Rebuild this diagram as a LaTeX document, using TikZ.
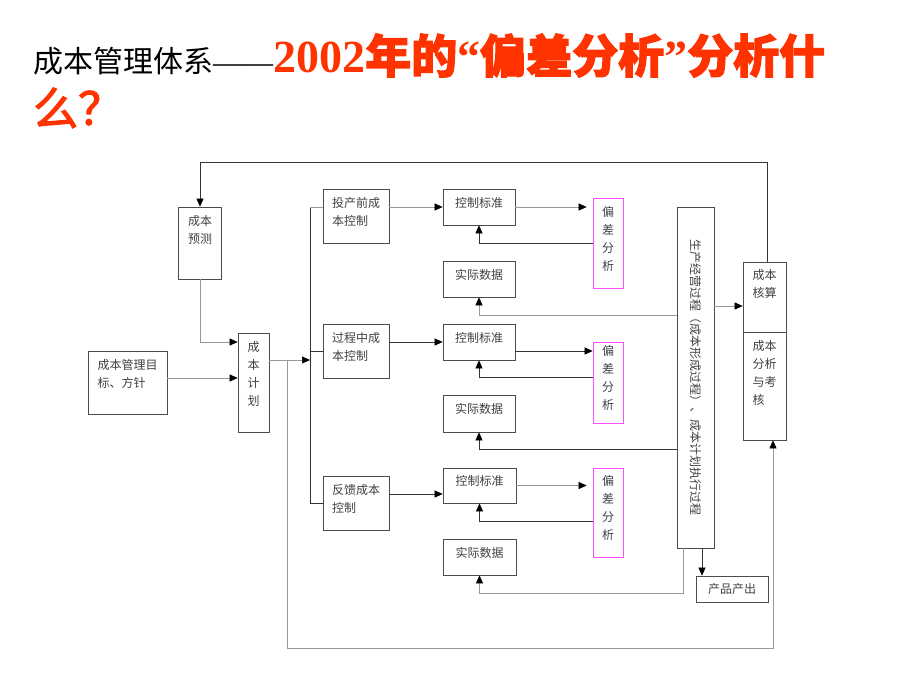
\documentclass[tikz,border=0pt]{standalone}
\usepackage{fontspec}
\usepackage{graphicx}
\setmainfont{Liberation Serif}
\newfontfamily\cjk{Noto Sans CJK SC}
\newfontfamily\cjkb[FakeBold=2.5]{Noto Sans CJK SC}
\usetikzlibrary{positioning,calc,arrows.meta}
\definecolor{ttlred}{RGB}{255,51,0}
\definecolor{devpink}{RGB}{255,80,255}
\tikzset{
	frame/.style={draw=black!70, line width=0.7pt, inner sep=0pt, text=black!75,
		font=\cjk\fontsize{12}{18}\selectfont, align=center},
	blk/.style={frame, text depth=9.5pt},
	devbox/.style={blk, draw=devpink},
	flow/.style={draw=black!80, line width=0.6pt},
	flowlt/.style={draw=black!40, line width=0.6pt},
}

\begin{document}
\begin{tikzpicture}[x=1pt, y=-1pt, >={Triangle[length=8pt,width=7pt,color=black]}]
	\useasboundingbox (0,0) rectangle (920,690);

	% title
	\node[anchor=base west, inner sep=0pt] (ttl) at (33,73) {{\cjk\fontsize{30}{36}\selectfont 成本管理体系}{\fontsize{30}{36}\selectfont ——}{\color{ttlred}\fontsize{46}{54}\selectfont\bfseries 2002{\cjkb 年的}“{\cjkb 偏差分析}”{\cjkb 分析什}}};
	\node[anchor=base west, inner sep=0pt] (ttlb) at (33,125) {\color{ttlred}\fontsize{45}{54}\selectfont\cjkb 么？};

	% planning
	\node[blk, align=left, minimum width=79, minimum height=63, text depth=18.5pt] (goal) at (127.5,382.5) {成本管理目\\标、方针};
	\node[blk, minimum width=43, minimum height=72, text depth=27.5pt] (fcst) at (200,243) {成本\\预测};
	\node[blk, minimum width=31, minimum height=99, text depth=18.5pt] (plan) at (253.5,382.5) {成\\本\\计\\划};

	% control stages
	\node[blk, align=left, minimum width=66, minimum height=54] (pre) at (356,216) {投产前成\\本控制};
	\node[blk, align=left, minimum width=66, minimum height=54] (proc) at (356,351) {过程中成\\本控制};
	\node[blk, align=left, minimum width=66, minimum height=54] (fdbk) at (356,503) {反馈成本\\控制};

	\node[blk, minimum width=72, minimum height=36] (std1) at (479,207) {控制标准};
	\node[blk, minimum width=72, minimum height=36] (act1) at (479,279) {实际数据};
	\node[blk, minimum width=72, minimum height=36] (std2) at (479,342) {控制标准};
	\node[blk, minimum width=72, minimum height=37] (act2) at (479,413.5) {实际数据};
	\node[blk, minimum width=73, minimum height=35] (std3) at (479.5,485.5) {控制标准};
	\node[blk, minimum width=73, minimum height=36] (act3) at (479.5,557) {实际数据};

	\node[devbox, minimum width=30, minimum height=90] (dev1) at (608,243) {偏\\差\\分\\析};
	\node[devbox, minimum width=30, minimum height=81] (dev2) at (608,382.5) {偏\\差\\分\\析};
	\node[devbox, minimum width=30, minimum height=89] (dev3) at (608,512.5) {偏\\差\\分\\析};

	% production and accounting
	\node[frame, minimum width=37, minimum height=341] (prod) at (695.5,377.5) {\rotatebox{-90}{生产经营过程（成本形成过程）、成本计划执行过程}};
	\node[blk, align=left, minimum width=43, minimum height=70, text depth=26.5pt] (acct) at (764.5,297) {成本\\核算};
	\node[blk, align=left, minimum width=43, minimum height=108, text depth=27.5pt] (eval) at (764.5,386) {成本\\分析\\与考\\核};
	\node[blk, minimum width=72, minimum height=26, text depth=1.5pt] (outp) at (732,589) {产品产出};

	% into the plan
	\draw[flowlt,->] (fcst.south) |- (plan.west |- 0,342);
	\draw[flowlt,->] (goal.east |- 0,378) -- (plan.west |- 0,378);

	% plan to the stages
	\coordinate (busT) at (310,207);
	\coordinate (busB) at (310,503);
	\draw[flowlt,->] (plan.east |- 0,360) -- (busT |- 0,360);
	\draw[flow] (busT) -- (busB) -- (fdbk.west);
	\draw[flowlt] (busT) -- (pre.west |- busT);
	\draw[flow] (busT |- proc.west) -- (proc.west);

	% stages to standards
	\draw[flowlt,->] (pre.east |- std1.west) -- (std1.west);
	\draw[flow,->] (proc.east |- std2.west) -- (std2.west);
	\draw[flow,->] (fdbk.east |- 0,494) -- (std3.west |- 0,494);

	% standards and deviation
	\draw[flowlt,->,shorten >=6pt] (std1.east) -- (std1.east -| dev1.west);
	\draw[flow,->] (std2.east |- 0,351) -- (dev2.west |- 0,351);
	\draw[flowlt,->,shorten >=6pt] (std3.east) -- (std3.east -| dev3.west);
	\draw[flow,->] (dev1.west |- 0,243) -| (std1.south);
	\draw[flow,->] (dev2.west |- 0,377) -| (std2.south);
	\draw[flow,->] (dev3.west |- 0,521) -| (std3.south);

	% actual data from production
	\coordinate (pb) at (683,593);
	\draw[flowlt,->] (prod.west |- 0,315) -| (act1.south);
	\draw[flow,->] (prod.west |- 0,449) -| (act2.south);
	\draw[flowlt,->] (pb |- prod.south) -- (pb) -| (act3.south);

	% production outputs
	\draw[flowlt,->] (prod.east |- 0,306) -- (acct.west |- 0,306);
	\draw[flow,->] (prod.south -| 702,0) -- (outp.north -| 702,0);

	% loops
	\coordinate (loopL) at (287,360);
	\coordinate (loopR) at (773,648);
	\draw[flowlt,->] (loopL) |- (loopR) -- (loopR |- eval.south);
	\coordinate (topR) at (767,162);
	\draw[flow,->] (topR |- acct.north) -- (topR) -| (fcst.north);
\end{tikzpicture}
\end{document}
